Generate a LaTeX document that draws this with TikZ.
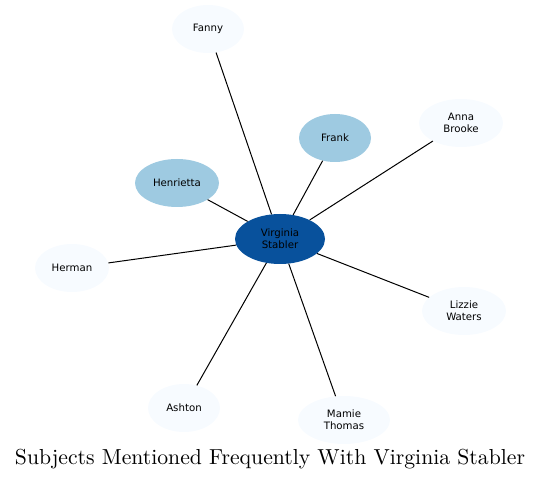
\documentclass[tikz,border=0pt]{standalone}
\usepackage{fontspec}
\usetikzlibrary{shapes.geometric}
\newfontfamily\dejavu{DejaVu Sans}
\newfontfamily\titlefont{lmroman10-regular}[Extension=.otf]
\definecolor{HubC}{HTML}{08519C}
\definecolor{NearC}{HTML}{9ECAE1}
\definecolor{FarC}{HTML}{F7FBFF}

\begin{document}
\begin{tikzpicture}[
  x=1pt, y=-1pt,
  person/.style={ellipse, draw=none, inner sep=0pt, minimum height=48pt, align=center, font=\dejavu\fontsize{10.2}{12}\selectfont},
  hub/.style={person, fill=HubC, minimum width=90pt, minimum height=50pt},
  near/.style={person, fill=NearC},
  far/.style={person, fill=FarC},
  link/.style={black, line width=1pt}
]
\useasboundingbox (0,0) rectangle (541,481);
% center
\node[hub] (virginia) at (280,239) {Virginia\\Stabler};
% inner ring
\node[near, minimum width=72pt] (frank) at (335,138) {Frank};
\node[near, minimum width=84pt] (henrietta) at (177,183) {Henrietta};
% outer ring
\node[far, minimum width=72pt] (fanny) at (208,29) {Fanny};
\node[far, minimum width=84pt] (anna) at (461,123) {Anna\\Brooke};
\node[far, minimum width=74pt] (herman) at (72,268) {Herman};
\node[far, minimum width=84pt] (lizzie) at (464,311) {Lizzie\\Waters};
\node[far, minimum width=72pt] (ashton) at (184,408) {Ashton};
\node[far, minimum width=92pt] (mamie) at (344,420) {Mamie\\Thomas};

% title
\node[font=\titlefont\fontsize{21.7}{26}\selectfont] (title) at (270,459) {Subjects Mentioned Frequently With Virginia Stabler};

% edges
\draw[link] (virginia) -- (fanny);
\draw[link] (virginia) -- (frank);
\draw[link] (virginia) -- (anna);
\draw[link] (virginia) -- (henrietta);
\draw[link] (virginia) -- (herman);
\draw[link] (virginia) -- (lizzie);
\draw[link] (virginia) -- (ashton);
\draw[link] (virginia) -- (mamie);
\end{tikzpicture}
\end{document}
